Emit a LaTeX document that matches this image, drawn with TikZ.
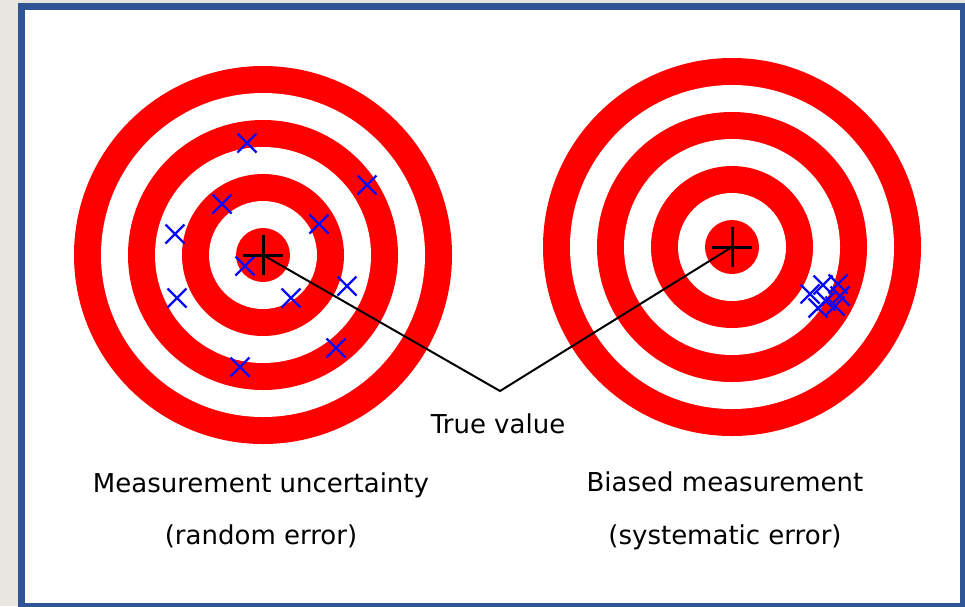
\documentclass[tikz,border=0pt]{standalone}
\usepackage{fontspec}
\setmainfont{DejaVu Sans}
\usetikzlibrary{shapes.misc}
\definecolor{framegray}{RGB}{232,230,225}
\definecolor{frameblue}{RGB}{47,85,151}
\definecolor{tred}{RGB}{255,0,0}
\definecolor{hitblue}{RGB}{10,10,250}
\tikzset{
  hit/.style={draw=hitblue, cross out, line width=2.2pt, minimum size=19pt, inner sep=0pt, outer sep=0pt},
  lbl/.style={anchor=base, inner sep=0pt, font=\fontsize{26}{30}\selectfont},
  centermark/.style={black, line width=3pt},
  connector/.style={black, line width=2pt}
}
\newcommand{\target}[1]{%
  \fill[tred]   (#1) circle (189pt);
  \fill[white]  (#1) circle (162pt);
  \fill[tred]   (#1) circle (135pt);
  \fill[white]  (#1) circle (108pt);
  \fill[tred]   (#1) circle (81pt);
  \fill[white]  (#1) circle (54pt);
  \fill[tred]   (#1) circle (27pt);
}
\begin{document}
\begin{tikzpicture}[x=1pt,y=-1pt]
\useasboundingbox (0,0) rectangle (965,606);
\fill[framegray] (0,0) rectangle (965,606);
\fill[frameblue] (18,3) rectangle (975,616);
\fill[white] (25,10) rectangle (960,603);

\coordinate (cL) at (263,255);
\coordinate (cR) at (732,247);
\coordinate (tv) at (500,391);

\target{cL}
\target{cR}

% left target hits
\node[hit] (h1)  at (247,143) {};
\node[hit] (h2)  at (367,185) {};
\node[hit] (h3)  at (222,204) {};
\node[hit] (h4)  at (319,224) {};
\node[hit] (h5)  at (175,234) {};
\node[hit] (h6)  at (245,266) {};
\node[hit] (h7)  at (347,286) {};
\node[hit] (h8)  at (291,298) {};
\node[hit] (h9)  at (177,298) {};
\node[hit] (h10) at (336,348) {};
\node[hit] (h11) at (240,367) {};

% right target hits (cluster)
\node[hit] (r1) at (810,294) {};
\node[hit] (r2) at (823,285) {};
\node[hit] (r3) at (838,284) {};
\node[hit] (r4) at (826,301) {};
\node[hit] (r5) at (835,306) {};
\node[hit] (r6) at (818,308) {};
\node[hit] (r7) at (840,296) {};

% center marks
\draw[centermark] ([xshift=-20pt]cL) -- ([xshift=20pt]cL);
\draw[centermark] ([yshift=-20pt]cL) -- ([yshift=20pt]cL);
\draw[centermark] ([xshift=-20pt]cR) -- ([xshift=20pt]cR);
\draw[centermark] ([yshift=-20pt]cR) -- ([yshift=20pt]cR);

% connectors
\draw[connector] (cL) -- (tv) -- (cR);

% labels
\node[lbl] (true) at (498,433) {True value};
\node[lbl] (mu)   at (261,492) {Measurement uncertainty};
\node[lbl] (re)   at (261,544) {(random error)};
\node[lbl] (bm)   at (725,491) {Biased measurement};
\node[lbl] (se)   at (725,544) {(systematic error)};
\end{tikzpicture}
\end{document}
